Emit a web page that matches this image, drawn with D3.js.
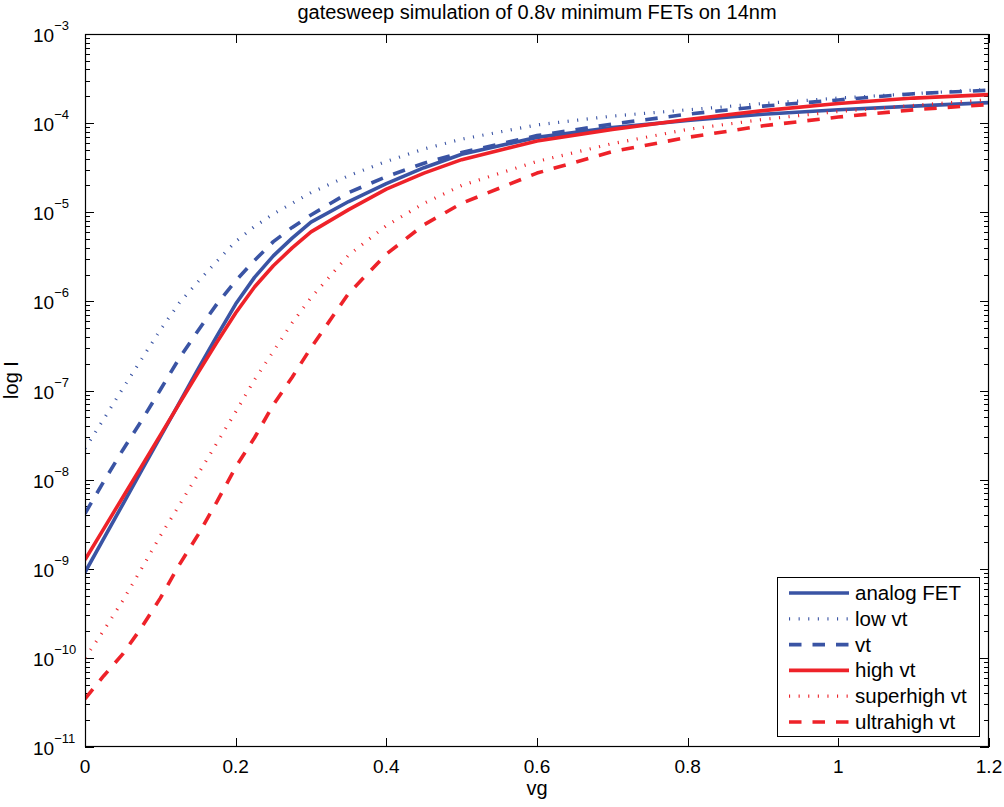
<!DOCTYPE html>
<html><head><meta charset="utf-8">
<script src="https://cdn.jsdelivr.net/npm/d3@7/dist/d3.min.js"></script>
<style>
body{margin:0;background:#fff}
text{font-family:"Liberation Sans",Arial,Helvetica,sans-serif;fill:#000}
</style>
</head><body>
<svg id="chart" width="1004" height="807"></svg>
<script>
// ---- data ----
const vg = [0, 0.025, 0.05, 0.075, 0.1, 0.125, 0.15, 0.175, 0.2, 0.225, 0.25, 0.275, 0.3, 0.35, 0.4, 0.45, 0.5, 0.6, 0.7, 0.8, 0.9, 1.0, 1.1, 1.2];
const analogFET   = [9.12e-10, 2.19e-9, 5.25e-9, 1.26e-8, 3.02e-8, 7.24e-8, 1.74e-7, 4.07e-7, 9.33e-7, 1.86e-6, 3.24e-6, 5.13e-6, 7.76e-6, 1.32e-5, 2.09e-5, 3.16e-5, 4.47e-5, 6.92e-5, 8.91e-5, 1.07e-4, 1.26e-4, 1.41e-4, 1.55e-4, 1.70e-4];
const lowVt       = [2.24e-8, 4.79e-8, 1.05e-7, 2.24e-7, 4.79e-7, 9.55e-7, 1.66e-6, 2.82e-6, 4.68e-6, 6.92e-6, 9.55e-6, 1.26e-5, 1.66e-5, 2.57e-5, 3.72e-5, 5.13e-5, 6.61e-5, 9.55e-5, 1.20e-4, 1.41e-4, 1.66e-4, 1.91e-4, 2.14e-4, 2.40e-4];
const vt          = [4.17e-9, 9.55e-9, 2.14e-8, 4.57e-8, 1.02e-7, 2.29e-7, 4.68e-7, 9.33e-7, 1.70e-6, 2.88e-6, 4.68e-6, 6.76e-6, 9.33e-6, 1.66e-5, 2.51e-5, 3.55e-5, 4.68e-5, 7.24e-5, 9.77e-5, 1.26e-4, 1.55e-4, 1.82e-4, 2.14e-4, 2.34e-4];
const highVt      = [1.26e-9, 2.82e-9, 6.31e-9, 1.41e-8, 3.16e-8, 7.08e-8, 1.58e-7, 3.47e-7, 7.41e-7, 1.45e-6, 2.51e-6, 3.98e-6, 6.03e-6, 1.07e-5, 1.82e-5, 2.75e-5, 3.89e-5, 6.31e-5, 8.51e-5, 1.10e-4, 1.38e-4, 1.66e-4, 1.91e-4, 2.09e-4];
const superhighVt = [1.0e-10, 2.04e-10, 4.37e-10, 1.0e-9, 2.34e-9, 5.13e-9, 1.15e-8, 2.57e-8, 5.75e-8, 1.32e-7, 2.75e-7, 5.75e-7, 1.10e-6, 3.31e-6, 7.08e-6, 1.26e-5, 2.00e-5, 3.72e-5, 5.89e-5, 8.51e-5, 1.10e-4, 1.35e-4, 1.58e-4, 1.84e-4];
const ultrahighVt = [3.47e-11, 6.31e-11, 1.10e-10, 2.19e-10, 4.68e-10, 1.10e-9, 2.40e-9, 5.62e-9, 1.38e-8, 2.95e-8, 6.92e-8, 1.41e-7, 3.02e-7, 1.23e-6, 3.39e-6, 7.24e-6, 1.26e-5, 2.75e-5, 4.79e-5, 6.92e-5, 9.33e-5, 1.17e-4, 1.41e-4, 1.62e-4];
const seriesNames = ["analog FET", "low vt", "vt", "high vt", "superhigh vt", "ultrahigh vt"];
const xTickValues = [0, 0.2, 0.4, 0.6, 0.8, 1.0, 1.2];
const xTickLabels = ["0", "0.2", "0.4", "0.6", "0.8", "1", "1.2"];
const yTickExponents = [-11, -10, -9, -8, -7, -6, -5, -4, -3];
const titleText = "gatesweep simulation of 0.8v minimum FETs on 14nm";
const xLabel = "vg";
const yLabel = "log I";

// ---- styles ----
const BLUE = "#3a54a4", RED = "#ee2229";
const styles = [
  {color: BLUE, width: 3.6, dash: null},
  {color: BLUE, width: 3.2, dash: "1.1,8.5"},
  {color: BLUE, width: 3.6, dash: "12.5,11"},
  {color: RED,  width: 3.6, dash: null},
  {color: RED,  width: 3.2, dash: "1.1,8.5"},
  {color: RED,  width: 3.6, dash: "12.5,11"}
];
const seriesValues = [analogFET, lowVt, vt, highVt, superhighVt, ultrahighVt];

const M = {left: 85, top: 34, right: 989, bottom: 747};
const svg = d3.select("#chart");
const x = d3.scaleLinear().domain([0, 1.2]).range([M.left, M.right]);
const y = d3.scaleLog().domain([1e-11, 1e-3]).range([M.bottom, M.top]);

svg.append("defs").append("clipPath").attr("id", "clip")
  .append("rect").attr("x", M.left).attr("y", M.top)
  .attr("width", M.right - M.left).attr("height", M.bottom - M.top);

// minor ticks on y
const minor = [];
yTickExponents.slice(0, -1).forEach(e => { for (let k = 2; k <= 9; k++) minor.push(k * Math.pow(10, e)); });
const decades = yTickExponents.map(e => Math.pow(10, e));

function styleAxis(g) {
  g.select(".domain").remove();
  g.selectAll(".tick line").attr("stroke", "#000").attr("stroke-width", 1).attr("shape-rendering", "crispEdges");
  g.selectAll(".tick text").remove();
}
// bottom / top
svg.append("g").attr("transform", `translate(0,${M.bottom})`)
  .call(d3.axisBottom(x).tickValues(xTickValues).tickSizeInner(-9).tickSizeOuter(0)).call(styleAxis);
svg.append("g").attr("transform", `translate(0,${M.top})`)
  .call(d3.axisTop(x).tickValues(xTickValues).tickSizeInner(-9).tickSizeOuter(0)).call(styleAxis);
// left / right majors + minors
svg.append("g").attr("transform", `translate(${M.left},0)`)
  .call(d3.axisLeft(y).tickValues(decades).tickSizeInner(-9).tickSizeOuter(0)).call(styleAxis);
svg.append("g").attr("transform", `translate(${M.left},0)`)
  .call(d3.axisLeft(y).tickValues(minor).tickSizeInner(-5).tickSizeOuter(0)).call(styleAxis);
svg.append("g").attr("transform", `translate(${M.right},0)`)
  .call(d3.axisRight(y).tickValues(decades).tickSizeInner(-9).tickSizeOuter(0)).call(styleAxis);
svg.append("g").attr("transform", `translate(${M.right},0)`)
  .call(d3.axisRight(y).tickValues(minor).tickSizeInner(-5).tickSizeOuter(0)).call(styleAxis);

// x tick labels
svg.append("g").selectAll("text").data(xTickValues).join("text")
  .attr("x", d => x(d)).attr("y", M.bottom + 26).attr("text-anchor", "middle")
  .attr("font-size", 19).text((d, i) => xTickLabels[i]);

// y tick labels 10^e
const yl = svg.append("g").selectAll("text").data(yTickExponents).join("text")
  .attr("x", 33).attr("y", d => y(Math.pow(10, d)) + 8).attr("font-size", 19);
yl.append("tspan").text("10");
yl.append("tspan").attr("font-size", 13).attr("dy", -12).text(d => "\u2212" + Math.abs(d));

// lines
const line = d3.line().x((d, i) => x(vg[i])).y(d => y(d));
const lg = svg.append("g").attr("clip-path", "url(#clip)");
seriesValues.forEach((vals, i) => {
  const s = styles[i];
  lg.append("path").attr("d", line(vals)).attr("fill", "none")
    .attr("stroke", s.color).attr("stroke-width", s.width)
    .attr("stroke-dasharray", s.dash).attr("stroke-linejoin", "round");
});

// box
svg.append("rect").attr("x", M.left + 0.5).attr("y", M.top + 0.5)
  .attr("width", M.right - M.left - 1).attr("height", M.bottom - M.top - 1)
  .attr("fill", "none").attr("stroke", "#000").attr("stroke-width", 1.2);

// title & axis labels
svg.append("text").attr("x", (M.left + M.right) / 2).attr("y", 19).attr("text-anchor", "middle")
  .attr("font-size", 20).text(titleText);
svg.append("text").attr("x", (M.left + M.right) / 2).attr("y", 795).attr("text-anchor", "middle")
  .attr("font-size", 20).text(xLabel);
svg.append("text").attr("transform", "translate(18,380) rotate(-90)").attr("text-anchor", "middle")
  .attr("font-size", 20).text(yLabel);

// legend
const L = {x: 777, y: 577, w: 202, h: 159};
const leg = svg.append("g");
leg.append("rect").attr("x", L.x + 0.5).attr("y", L.y + 0.5).attr("width", L.w).attr("height", L.h)
  .attr("fill", "#fff").attr("stroke", "#000").attr("stroke-width", 1);
seriesNames.forEach((name, i) => {
  const ry = 593 + i * 25.8;
  const s = styles[i];
  leg.append("line").attr("x1", 789).attr("x2", 849).attr("y1", ry).attr("y2", ry)
    .attr("stroke", s.color).attr("stroke-width", s.width).attr("stroke-dasharray", s.dash);
  leg.append("text").attr("x", 855).attr("y", ry + 7).attr("font-size", 20.5).text(name);
});
</script>
</body></html>
